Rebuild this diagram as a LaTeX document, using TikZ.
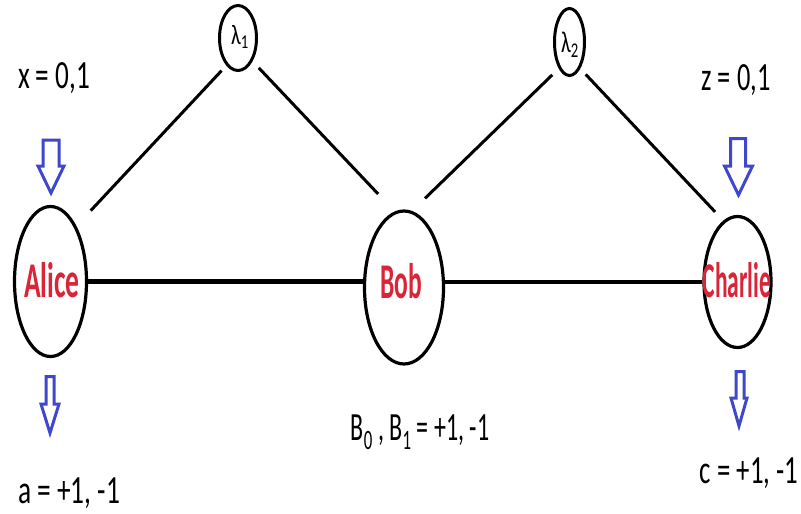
\documentclass[tikz,border=0pt]{standalone}
\usepackage{fontspec}
\setmainfont{Carlito}
\usetikzlibrary{shapes.geometric}
\definecolor{arrowblue}{RGB}{63,72,204}
\definecolor{namered}{RGB}{218,36,56}
\newcommand{\sqz}[2]{\scalebox{#1}[1]{#2}}
\tikzset{
  party/.style={ellipse, draw=black, line width=3.2pt, inner sep=0pt, fill=none},
  hidv/.style={ellipse, draw=black, line width=3pt, inner sep=0pt},
  conn/.style={draw=black, line width=3pt},
  hconn/.style={draw=black, line width=4.5pt},
  barrow/.style={draw=arrowblue, line width=3pt, line join=miter},
  lbl/.style={inner sep=0pt, anchor=base, font=\fontsize{40}{44}\selectfont},
  nm/.style={inner sep=0pt, text=namered, font=\fontsize{50}{54}\selectfont\bfseries},
  lam/.style={inner sep=0pt}
}
\begin{document}
\begin{tikzpicture}[x=1pt,y=-1pt]
\useasboundingbox (0,0) rectangle (801,514);
% parties
\node[party, minimum width=72pt, minimum height=150pt] (A) at (50.5,281.5) {};
\node[party, minimum width=79pt, minimum height=153pt] (B) at (404,287.5) {};
\node[party, minimum width=67pt, minimum height=131pt] (C) at (737.5,282) {};
\node[nm] (Atxt) at (52,280) {\sqz{0.55}{Alice}};
\node[nm] (Btxt) at (401,281) {\sqz{0.51}{Bob}};
\node[nm] (Ctxt) at (737,280) {\sqz{0.47}{Charlie}};
% hidden variables
\node[hidv, minimum width=37pt, minimum height=65pt] (L1) at (238,38) {};
\node[hidv, minimum width=30pt, minimum height=67pt] (L2) at (569.5,42) {};
\node[lam, font=\fontsize{28}{30}\selectfont] (L1txt) at (240,37) {\sqz{0.75}{λ\textsubscript{1}}};
\node[lam, font=\fontsize{30}{32}\selectfont] (L2txt) at (570,45) {\sqz{0.7}{λ\textsubscript{2}}};
% connectors
\draw[conn, shorten <=21pt, shorten >=7pt] (A.65) -- (L1.247);
\draw[conn, shorten <=9pt, shorten >=24pt] (L1.302) -- (B.97);
\draw[conn, shorten <=9pt, shorten >=18pt] (L2.248) -- (B.84);
\draw[conn, shorten <=8pt, shorten >=12pt] (L2.292) -- (C.103);
\draw[hconn] (A.east) -- (A.east -| B.west);
\draw[hconn] (B.east |- C.west) -- (C.west);
% block arrows
\draw[barrow] (43,140) -- (59,140) -- (59,166) -- (64,166) -- (51,193) -- (38,166) -- (43,166) -- cycle;
\draw[barrow] (730.5,138.5) -- (745.5,138.5) -- (745.5,166) -- (752.5,166) -- (738.5,195) -- (724.5,166) -- (730.5,166) -- cycle;
\draw[barrow] (46,376.5) -- (54,376.5) -- (54,404) -- (59,404) -- (50,433) -- (41,404) -- (46,404) -- cycle;
\draw[barrow] (736,371.5) -- (744,371.5) -- (744,398) -- (747,398) -- (739,426) -- (731,398) -- (736,398) -- cycle;
% labels
\node[lbl] (xl) at (54,88) {\sqz{0.68}{x = 0,1}};
\node[lbl] (zl) at (736,90) {\sqz{0.66}{z = 0,1}};
\node[lbl] (al) at (69,503) {\sqz{0.685}{a = +1, -1}};
\node[lbl] (cl) at (749,483) {\sqz{0.67}{c = +1, -1}};
\node[lbl] (bl) at (420,440) {\sqz{0.6}{B\textsubscript{0} , B\textsubscript{1} = +1, -1}};
\end{tikzpicture}
\end{document}
